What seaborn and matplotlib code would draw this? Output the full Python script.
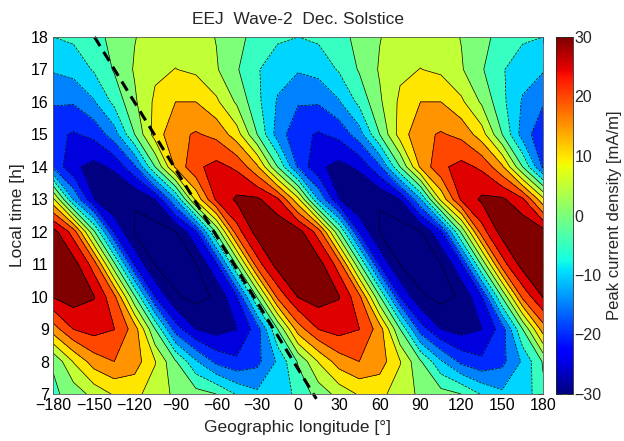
import numpy as np
import matplotlib
matplotlib.use('Agg')
import matplotlib.pyplot as plt
import seaborn as sns

# grid of the wave-2 peak current density (mA/m)
lon = [-180, -165, -150, -135, -120, -105, -90, -75, -60, -45, -30, -15, 0,
       15, 30, 45, 60, 75, 90, 105, 120, 135, 150, 165, 180]
local_time = [7, 8, 9, 10, 11, 12, 13, 14, 15, 16, 17, 18]

j07 = [-1.0, 2.0, 6.7, 10.6, 11.3, 7.7, 4.0, 1.9, 0.0, -5.5, -9.0, -8.5,
       -3.5, 2.0, 6.7, 10.6, 11.3, 7.7, 4.0, 1.9, 0.0, -5.5, -9.0, -8.5, -1.0]
j08 = [0.5, 10.3, 17.4, 20.0, 17.4, 10.3, 0.5, -9.3, -16.4, -19.0, -16.4, -9.3,
       0.5, 10.3, 17.4, 20.0, 17.4, 10.3, 0.5, -9.3, -16.4, -19.0, -16.4, -9.3, 0.5]
j09 = [17.6, 25.1, 27.0, 25.1, 17.6, 0.0, -17.6, -25.1, -27.0, -25.1, -17.6, 0.0,
       17.6, 25.1, 27.0, 25.1, 17.6, 0.0, -17.6, -25.1, -27.0, -25.1, -17.6, 0.0, 17.6]
j10 = [30.3, 32.5, 30.3, 21.3, 0.5, -20.3, -29.3, -31.5, -29.3, -20.3, 0.5, 21.3,
       30.3, 32.5, 30.3, 21.3, 0.5, -20.3, -29.3, -31.5, -29.3, -20.3, 0.5, 21.3, 30.3]
j11 = [34.5, 32.2, 22.8, 1.0, -20.8, -30.2, -32.5, -30.2, -20.8, 1.0, 22.8, 32.2,
       34.5, 32.2, 22.8, 1.0, -20.8, -30.2, -32.5, -30.2, -20.8, 1.0, 22.8, 32.2, 34.5]
j12 = [32.2, 22.8, 1.0, -20.8, -30.2, -32.5, -30.2, -20.8, 1.0, 22.8, 32.2, 34.5,
       32.2, 22.8, 1.0, -20.8, -30.2, -32.5, -30.2, -20.8, 1.0, 22.8, 32.2, 34.5, 32.2]
j13 = [11.4, -10.4, -24.9, -29.9, -29.9, -24.9, -10.4, 11.4, 25.9, 30.9, 30.9, 25.9,
       11.4, -10.4, -24.9, -29.9, -29.9, -24.9, -10.4, 11.4, 25.9, 30.9, 30.9, 25.9, 11.4]
j14 = [-15.9, -24.1, -26.5, -24.1, -15.9, 0.0, 15.9, 24.1, 26.5, 24.1, 15.9, 0.0,
       -15.9, -24.1, -26.5, -24.1, -15.9, 0.0, 15.9, 24.1, 26.5, 24.1, 15.9, 0.0, -15.9]
j15 = [-18.7, -20.5, -18.7, -12.3, 0.0, 12.3, 18.7, 20.5, 18.7, 12.3, 0.0, -12.3,
       -18.7, -20.5, -18.7, -12.3, 0.0, 12.3, 18.7, 20.5, 18.7, 12.3, 0.0, -12.3, -18.7]
j16 = [-14.5, -14.5, -10.5, -3.7, 4.2, 11.0, 15.0, 15.0, 11.0, 4.2, -3.7, -10.5,
       -14.5, -14.5, -10.5, -3.7, 4.2, 11.0, 15.0, 15.0, 11.0, 4.2, -3.7, -10.5, -14.5]
j17 = [-9.5, -8.2, -4.5, 0.5, 5.5, 9.0, 10.1, 9.0, 5.5, 0.5, -4.5, -8.2,
       -9.5, -8.2, -4.5, 0.5, 5.5, 9.0, 10.1, 9.0, 5.5, 0.5, -4.5, -8.2, -9.5]
j18 = [-5.0, -4.1, -1.8, 1.5, 4.8, 7.1, 8.0, 7.1, 4.8, 1.5, -1.8, -4.1,
       -5.0, -4.1, -1.8, 1.5, 4.8, 7.1, 8.0, 7.1, 4.8, 1.5, -1.8, -4.1, -5.0]

levels = [-30, -25, -20, -15, -10, -5, 0, 5, 10, 15, 20, 25, 30]

# dashed reference line
line_lon = [-149.5, 13.5]
line_lt = [18, 6.85]

sns.set_style('white')
plt.rcParams['font.family'] = ['Liberation Sans', 'DejaVu Sans']

grid = np.array([j07, j08, j09, j10, j11, j12, j13, j14, j15, j16, j17, j18])

fig = plt.figure(figsize=(6.24, 4.41), dpi=100)
ax = fig.add_axes([53 / 624, 47 / 441, 490 / 624, 357 / 441])
cax = fig.add_axes([556 / 624, 47 / 441, 17 / 624, 357 / 441])

cmap = plt.get_cmap('jet')
norm = plt.Normalize(-30, 30)
# matlab style filling: each band takes the colour of its lower level
fill_levels = [-1000] + levels + [1000]
fill_colors = [cmap(0.0)] + [cmap(norm(v)) for v in levels]

ax.contourf(lon, local_time, grid, levels=fill_levels, colors=fill_colors)
ax.contour(lon, local_time, grid, levels=levels, colors='k', linewidths=0.5)

sns.lineplot(x=line_lon, y=line_lt, ax=ax, sort=False, color='k', linewidth=2.2,
             linestyle=(0, (3.5, 2.2)), clip_on=False, legend=False)

ax.set_xlim(-180, 180)
ax.set_ylim(7, 18)
ax.set_xticks(range(-180, 181, 30))
ax.set_yticks(range(7, 19))
ax.tick_params(direction='in', top=True, right=True, length=4, width=0.6,
               labelsize=11.5, pad=3, colors='k')
for sp in ax.spines.values():
    sp.set_linewidth(0.6)
    sp.set_color('#555555')
ax.set_title('EEJ  Wave-2  Dec. Solstice', fontsize=12.5, pad=9)
ax.set_xlabel('Geographic longitude [°]', fontsize=12.5, labelpad=5)
ax.set_ylabel('Local time [h]', fontsize=12.5, labelpad=4)

sm = plt.cm.ScalarMappable(norm=norm, cmap=cmap)
cbar = fig.colorbar(sm, cax=cax, ticks=[-30, -20, -10, 0, 10, 20, 30])
cax.tick_params(direction='in', left=True, right=True, length=4, width=0.6,
                labelsize=11.5, pad=1)
cbar.outline.set_linewidth(0.6)
cbar.set_label('Peak current density [mA/m]', fontsize=12, labelpad=4)

fig.savefig('out.png', dpi=100)
